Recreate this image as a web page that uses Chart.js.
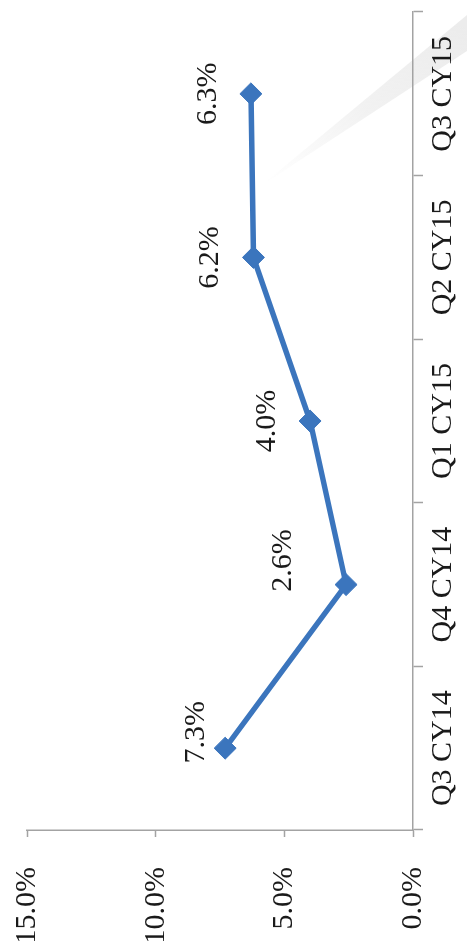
<!DOCTYPE html>
<html><head><meta charset="utf-8">
<script src="https://cdn.jsdelivr.net/npm/chart.js@4/dist/chart.umd.min.js"></script>
<style>
html,body{margin:0;padding:0;background:#fff;width:467px;height:941px;overflow:hidden;}
#wrap{position:absolute;left:0;top:0;width:941px;height:467px;transform-origin:0 0;transform:translate(0,941px) rotate(-90deg);}
</style></head><body>
<div id="wrap"><canvas id="c" width="941" height="467"></canvas></div>
<script>
const categories = ['Q3 CY14', 'Q4 CY14', 'Q1 CY15', 'Q2 CY15', 'Q3 CY15'];
const growth = [7.3, 2.6, 4.0, 6.2, 6.3];
const valueTicks = [0, 5, 10, 15];

const AXIS = '#a3a3a3';
const FONT = '"Liberation Serif", "Times New Roman", serif';

const sweepPlugin = {
  id: 'sweep',
  beforeDraw(chart) {
    const ctx = chart.ctx;
    ctx.save();
    const g = ctx.createLinearGradient(760, 262, 910, 467);
    g.addColorStop(0, 'rgba(236,236,236,0)');
    g.addColorStop(0.5, 'rgba(236,236,236,0.7)');
    g.addColorStop(1, 'rgba(236,236,236,1)');
    ctx.fillStyle = g;
    ctx.beginPath();
    ctx.moveTo(756, 262);
    ctx.lineTo(926, 467);
    ctx.lineTo(890, 467);
    ctx.closePath();
    ctx.fill();
    ctx.restore();
  }
};

const labelPlugin = {
  id: 'valLabels',
  afterDatasetsDraw(chart, args, opts) {
    const ctx = chart.ctx;
    const meta = chart.getDatasetMeta(0);
    ctx.save();
    ctx.font = opts.size + 'px ' + FONT;
    ctx.fillStyle = opts.color;
    ctx.textAlign = 'center';
    ctx.textBaseline = 'alphabetic';
    meta.data.forEach((pt, i) => {
      const d = opts.shift[i] || [0, 0];
      ctx.fillText(growth[i].toFixed(1) + '%', pt.x + d[0], pt.y - opts.gap + d[1]);
    });
    ctx.restore();
  }
};

new Chart(document.getElementById('c'), {
  type: 'line',
  data: {
    labels: categories,
    datasets: [{
      data: growth,
      borderColor: '#3b75bd',
      backgroundColor: '#3b75bd',
      borderWidth: 5.5,
      pointStyle: 'rectRot',
      pointRadius: 11,
      pointBorderWidth: 1,
      pointBorderColor: '#3b75bd',
      pointBackgroundColor: '#3b75bd',
      tension: 0,
      fill: false
    }]
  },
  options: {
    responsive: false,
    animation: false,
    devicePixelRatio: 1,
    layout: { padding: { top: 27, right: 10, left: 0, bottom: 0 } },
    plugins: {
      legend: { display: false },
      tooltip: { enabled: false },
      valLabels: { size: 30, color: '#1a1a1a', gap: 35, shift: [[16, 14], [24, -20], [0, 0], [0, 0], [0, 0]] }
    },
    scales: {
      x: {
        type: 'category',
        offset: true,
        grid: { offset: true, drawOnChartArea: false, drawTicks: true, tickLength: 10, tickColor: AXIS, tickWidth: 1.5 },
        border: { display: true, color: AXIS, width: 1.5 },
        ticks: { color: '#1a1a1a', font: { family: FONT, size: 30 }, padding: 2, maxRotation: 0, autoSkip: false },
        afterFit(s) { s.height = 54; s.paddingLeft = 0; s.paddingRight = 0; }
      },
      y: {
        min: 0, max: 15,
        afterBuildTicks(s) { s.ticks = valueTicks.map(v => ({ value: v })); },
        grid: { drawOnChartArea: false, drawTicks: true, tickLength: 7, tickColor: AXIS, tickWidth: 1.5 },
        border: { display: true, color: AXIS, width: 1.5 },
        ticks: { color: '#1a1a1a', font: { family: FONT, size: 30 }, padding: 30, callback: v => v.toFixed(1) + '%' },
        afterFit(s) { s.width = 111; s.paddingTop = 0; s.paddingBottom = 0; }
      }
    }
  },
  plugins: [sweepPlugin, labelPlugin]
});
</script>
</body></html>
